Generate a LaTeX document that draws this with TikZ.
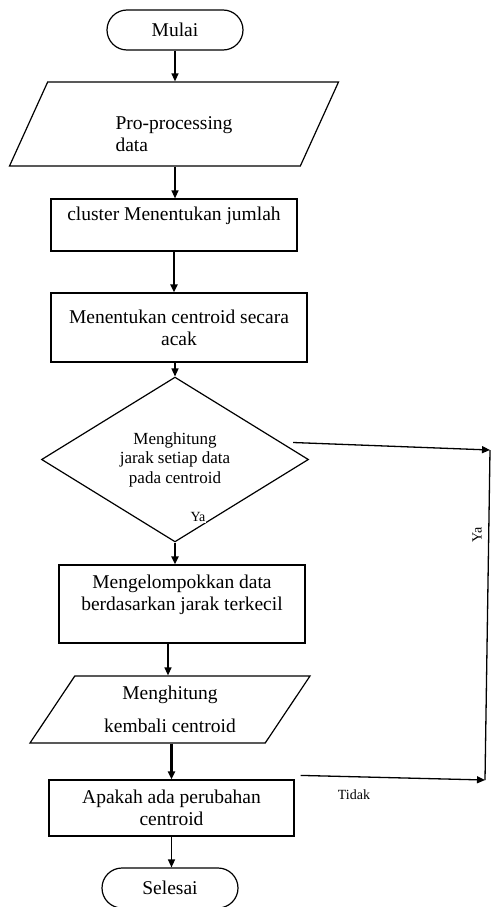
\documentclass[tikz,border=0pt]{standalone}
\usepackage{fontspec}
\setmainfont{Liberation Serif}
\usepackage{tikz}
\usetikzlibrary{shapes.geometric, arrows.meta, positioning}

\tikzset{
  teks/.style={font=\fontsize{19.5}{22}\selectfont, align=center},
  terminal/.style={teks, draw, rectangle, rounded corners=20pt, minimum width=136pt, minimum height=40pt, line width=1.2pt},
  proses/.style={teks, draw, rectangle, line width=1.2pt},
  io/.style={teks, draw, trapezium, trapezium stretches body, line width=1.2pt},
  keputusan/.style={draw, diamond, font=\fontsize{17}{19.5}\selectfont, align=center, inner sep=0pt, line width=1.2pt},
  kecil/.style={font=\fontsize{14}{16}\selectfont, inner sep=1pt},
  arr/.style={-{Triangle[length=8pt,width=7pt]}, line width=1.3pt},
  tebal/.style={arr, line width=2.4pt}
}

\begin{document}
\begin{tikzpicture}[x=1pt, y=-1pt]
  \useasboundingbox (0,0) rectangle (492,907);
  \node[terminal] (mulai) at (175,30) {Mulai};
  \node[io, trapezium left angle=53, trapezium right angle=127, minimum width=329pt, minimum height=84pt] (pre) at (174,124)
    {\raisebox{-12pt}[\height][\depth]{\begin{tabular}{@{}l@{}}Pro-processing\\data\end{tabular}}};
  \node[proses, minimum width=246pt, minimum height=52pt] (jumlah) at (174,225) {cluster Menentukan jumlah\\\mbox{}};
  \node[proses, minimum width=256pt, minimum height=69pt] (acak) at (179,327.5) {Menentukan centroid secara\\acak};
  \node[keputusan, minimum width=267pt, minimum height=155pt] (hit) at (175,459.5) {Menghitung\\jarak setiap data\\pada centroid};
  \node[proses, minimum width=246pt, minimum height=78pt] (kelompok) at (182,604) {Mengelompokkan data\\berdasarkan jarak terkecil\\\mbox{}};
  \node[io, trapezium left angle=50, trapezium right angle=130, minimum width=280pt, minimum height=67pt] (hitung) at (170,709.5) {Menghitung\\[11pt]kembali centroid};
  \node[proses, minimum width=245pt, minimum height=56pt] (cek) at (171.5,808) {Apakah ada perubahan\\centroid};
  \node[terminal] (selesai) at (170,888) {Selesai};

  \node[kecil, fill=white] (ya1) at (198,517) {Ya};
  \node[kecil, rotate=90] (ya2) at (477,535) {Ya};
  \node[kecil] (tidak) at (354,795) {Tidak};

  \coordinate (sudut1) at (485,780);
  \coordinate (sudut2) at (490,450);

  \draw[arr] (mulai.south) -- (mulai.south |- pre.north);
  \draw[arr] (pre.south -| mulai.south) -- (mulai.south |- jumlah.north);
  \draw[tebal] (jumlah.south) -- (jumlah.south |- acak.north);
  \draw[arr] (hit.north |- acak.south) -- (hit.north);
  \draw[tebal] (hit.south) -- (hit.south |- kelompok.north);
  \draw[arr] ([xshift=-14pt]kelompok.south) -- ([xshift=-14pt]kelompok.south |- hitung.north);
  \draw[tebal] (cek.north |- hitung.south) -- (cek.north);
  \draw[arr] (cek.south) -- (cek.south |- selesai.north);
  \draw[arr] ([shift={(6,-4)}]cek.north east) -- (sudut1);
  \draw[line width=1.3pt] (sudut1) -- (sudut2);
  \draw[arr] ([shift={(-16,-17)}]hit.east) -- (sudut2);
\end{tikzpicture}
\end{document}
